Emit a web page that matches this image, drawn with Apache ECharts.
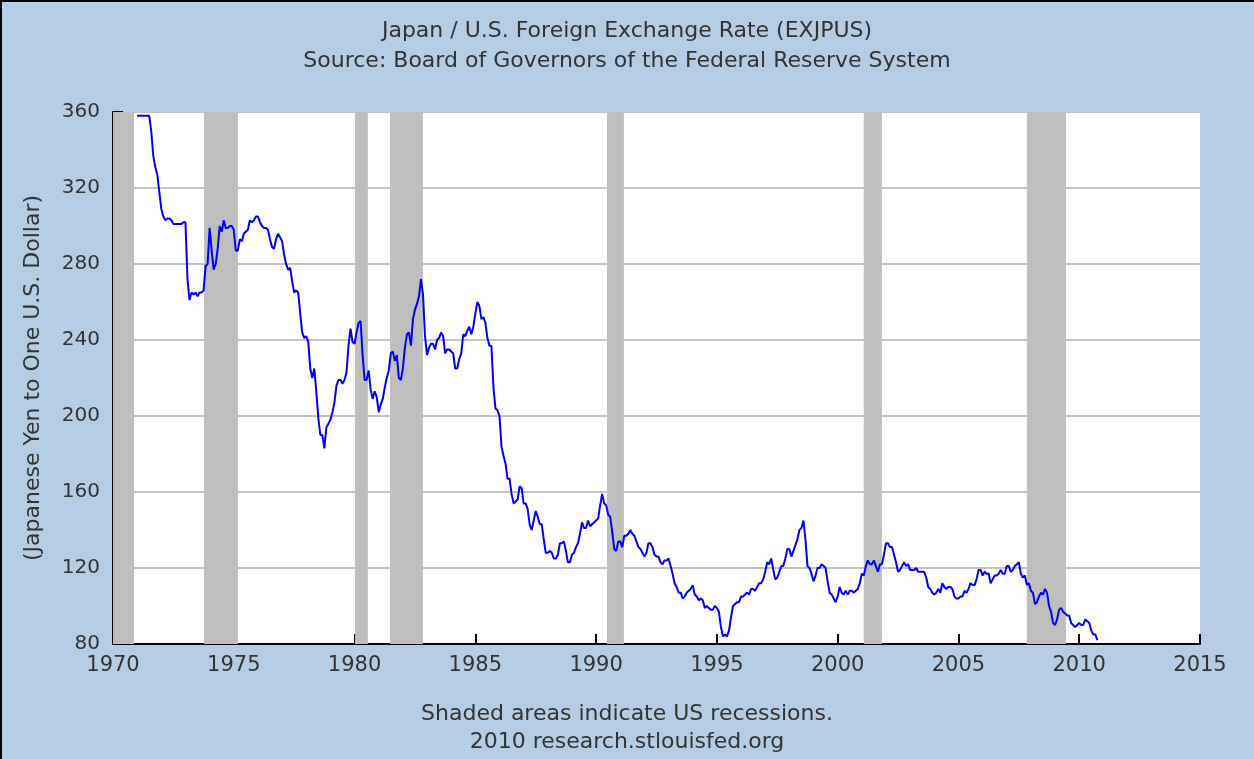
<!DOCTYPE html>
<html>
<head>
<meta charset="utf-8">
<script src="https://cdn.jsdelivr.net/npm/echarts@6/dist/echarts.min.js"></script>
<style>
  html, body { margin: 0; padding: 0; background: #b4cde4; }
  #chart { width: 1254px; height: 759px; }
</style>
</head>
<body>
<div id="chart"></div>
<script>
// monthly yen per dollar, Jan 1971 onward
const firstYear = 1971
const rates1970s = [
  358, 358, 358, 358, 358, 358, 358, 350, 337, 331, 327, 318,
  309, 305, 303, 304, 304, 303, 301, 301, 301, 301, 301, 302,
  302, 272, 261, 265, 264, 265, 263, 265, 265, 266, 279, 280,
  299, 287, 277, 280, 288, 300, 297, 303, 299, 299, 300, 300,
  298, 287, 287, 293, 292, 296, 297, 298, 303, 302, 303, 305,
  305, 302, 300, 299, 299, 298, 293, 289, 288, 293, 296, 294,
  292, 285, 280, 277, 278, 271, 265, 266, 265, 254, 244, 241,
  242, 239, 225, 220, 225, 213, 199, 190, 190, 183, 194, 196,
  198, 202, 207, 216, 219, 219, 217, 219, 223, 237, 246, 239,
]
const rates1980s = [
  238, 244, 249, 250, 232, 219, 219, 224, 214, 209, 213, 210,
  202, 206, 209, 215, 220, 224, 233, 234, 229, 232, 220, 219,
  225, 236, 243, 244, 237, 251, 256, 259, 263, 272, 264, 242,
  232, 236, 238, 238, 235, 240, 241, 244, 242, 233, 235, 235,
  234, 233, 225, 225, 230, 233, 243, 242, 245, 247, 243, 247,
  254, 260, 258, 251, 252, 249, 241, 237, 237, 215, 204, 203,
  200, 184, 179, 175, 167, 167, 159, 154, 155, 156, 163, 162,
  154, 154, 151, 143, 140, 145, 150, 147, 143, 143, 135, 128,
  128, 129, 128, 125, 125, 127, 133, 133, 134, 129, 123, 123,
  127, 128, 131, 133, 138, 144, 141, 141, 145, 142, 143, 144,
]
const rates1990s = [
  145, 146, 153, 159, 154, 153, 148, 147, 139, 130, 129, 134,
  134, 131, 137, 137, 138, 140, 138, 137, 134, 131, 130, 128,
  126, 128, 133, 133, 131, 127, 126, 126, 123, 122, 124, 124,
  125, 121, 117, 112, 110, 107, 107, 104, 105, 107, 108, 109,
  111, 106, 105, 103, 104, 103, 99, 100, 99, 98, 98, 100,
  99, 97, 89, 84, 85, 84, 87, 94, 100, 101, 102, 102,
  105, 105, 106, 107, 106, 109, 109, 108, 110, 112, 112, 114,
  118, 123, 122, 125, 119, 114, 115, 118, 121, 121, 125, 130,
  130, 126, 129, 132, 135, 140, 141, 145, 135, 121, 120, 117,
  113, 116, 120, 120, 122, 121, 120, 113, 107, 106, 104, 102,
]
const rates2000s = [
  105, 110, 107, 106, 108, 106, 108, 108, 107, 108, 109, 112,
  117, 116, 121, 124, 122, 122, 124, 121, 118, 122, 122, 127,
  133, 133, 131, 131, 127, 123, 118, 119, 121, 123, 121, 122,
  119, 119, 119, 120, 118, 118, 118, 118, 115, 110, 109, 107,
  106, 107, 109, 107, 112, 110, 109, 110, 110, 109, 105, 104,
  104, 105, 105, 108, 107, 109, 112, 111, 111, 114, 119, 119,
  116, 118, 117, 117, 112, 114, 116, 116, 117, 119, 117, 117,
  121, 121, 118, 119, 121, 122, 123, 117, 115, 116, 111, 112,
  108, 107, 101, 102, 105, 107, 106, 109, 107, 100, 97, 91,
  90, 93, 98, 99, 97, 96, 95, 95, 91, 90, 89, 90,
  91, 90, 90, 93, 92, 91, 87, 85, 85, 82,
]
// US recessions as [start, end] in fractional years
const recessions = [
  [1969.9, 1970.87], [1973.77, 1975.17], [1980.02, 1980.55],
  [1981.47, 1982.83], [1990.45, 1991.15], [2001.08, 2001.83],
  [2007.83, 2009.45],
]
const yTicks = [80, 120, 160, 200, 240, 280, 320, 360]

const allRates = rates1970s.concat(rates1980s, rates1990s, rates2000s)
const points = allRates.map((v, i) => [firstYear + i / 12, v])

const font = 'DejaVu Sans'
const txt = '#333'
const capStyle = { fontFamily: font, fontSize: 22, fontWeight: 'normal', color: txt }

const chart = echarts.init(document.getElementById('chart'))
chart.setOption({
  backgroundColor: '#b4cde4',
  animation: false,
  title: [
    { text: 'Japan / U.S. Foreign Exchange Rate (EXJPUS)', left: 'center', top: 15, textStyle: capStyle },
    { text: 'Source: Board of Governors of the Federal Reserve System', left: 'center', top: 45, textStyle: capStyle },
    { text: 'Shaded areas indicate US recessions.', left: 'center', top: 698, textStyle: capStyle },
    { text: '2010 research.stlouisfed.org', left: 'center', top: 726, textStyle: capStyle },
  ],
  grid: {
    left: 113, right: 54, top: 112, bottom: 115,
    show: true, backgroundColor: '#ffffff', borderWidth: 0,
  },
  xAxis: {
    type: 'value', min: 1970, max: 2015, interval: 5,
    axisLine: { lineStyle: { color: '#000', width: 2 } },
    axisTick: { inside: true, length: 10, lineStyle: { color: '#000', width: 2 } },
    axisLabel: { margin: 11, fontFamily: font, fontSize: 21, color: txt, formatter: (v) => String(v) },
    splitLine: { show: false },
  },
  yAxis: {
    type: 'value', min: yTicks[0], max: yTicks[yTicks.length - 1], interval: 40,
    name: '(Japanese Yen to One U.S. Dollar)', nameLocation: 'middle', nameGap: 69,
    nameTextStyle: { fontFamily: font, fontSize: 22, color: txt },
    axisLine: { show: true, lineStyle: { color: '#000', width: 2 } },
    axisTick: { show: true, inside: true, length: 10, lineStyle: { color: '#000', width: 2 } },
    axisLabel: { margin: 13, fontFamily: font, fontSize: 20, color: txt },
    splitLine: { lineStyle: { color: '#c4c4c4', width: 2 } },
  },
  series: [{
    type: 'line',
    data: points,
    showSymbol: false,
    clip: true,
    lineStyle: { color: '#0000ff', width: 2 },
    markArea: {
      silent: true,
      itemStyle: { color: '#bebebe', opacity: 1 },
      data: recessions.map((r) => [{ xAxis: Math.max(r[0], 1970) }, { xAxis: r[1] }]),
    },
  }],
  graphic: [
    { type: 'line', shape: { x1: 1, y1: 0, x2: 1, y2: 759 }, style: { stroke: '#000', lineWidth: 2 } },
    { type: 'line', shape: { x1: 0, y1: 1, x2: 1254, y2: 1 }, style: { stroke: '#000', lineWidth: 2 } },
  ],
})
</script>
</body>
</html>
